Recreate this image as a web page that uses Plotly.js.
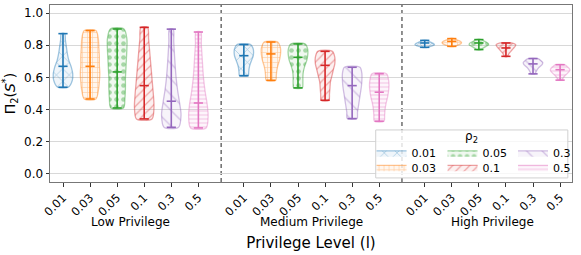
<!DOCTYPE html>
<html><head><meta charset="utf-8">
<script src="https://cdn.plot.ly/plotly-3.0.1.min.js"></script>
<style>html,body{margin:0;padding:0;background:#fff}#chart{width:581px;height:255px}</style>
</head><body><div id="chart"></div>
<script>
// ---------- data ----------
const rhoLabels = ["0.01", "0.03", "0.05", "0.1", "0.3", "0.5"];
const groupLabels = ["Low Privilege", "Medium Privilege", "High Privilege"];

const minLow  = [0.539, 0.466, 0.410, 0.342, 0.290, 0.286];
const maxLow  = [0.872, 0.891, 0.901, 0.911, 0.900, 0.882];
const meanLow = [0.669, 0.669, 0.634, 0.549, 0.452, 0.441];

const minMed  = [0.611, 0.582, 0.535, 0.458, 0.344, 0.328];
const maxMed  = [0.804, 0.820, 0.808, 0.762, 0.663, 0.623];
const meanMed = [0.735, 0.746, 0.725, 0.675, 0.549, 0.508];

const minHigh  = [0.787, 0.793, 0.773, 0.731, 0.622, 0.583];
const maxHigh  = [0.830, 0.841, 0.835, 0.814, 0.717, 0.679];
const meanHigh = [0.814, 0.824, 0.814, 0.783, 0.684, 0.648];

// relative violin width, from the minimum (first) to the maximum (last)
const shapeLow = [
  [0.55, 0.95, 1.00, 0.85, 0.60, 0.45, 0.35, 0.25, 0.18],
  [0.60, 0.85, 0.95, 1.00, 0.95, 0.95, 0.90, 0.85, 0.60],
  [0.65, 0.80, 0.85, 0.85, 0.90, 0.95, 1.00, 1.00, 0.70],
  [0.80, 1.00, 0.95, 0.85, 0.75, 0.65, 0.55, 0.45, 0.35],
  [0.75, 1.00, 0.85, 0.65, 0.50, 0.40, 0.32, 0.25, 0.20],
  [0.80, 1.00, 0.90, 0.70, 0.55, 0.45, 0.38, 0.30, 0.25]
];
const shapeMed = [
  [0.45, 0.50, 0.55, 0.65, 0.80, 0.95, 1.00, 0.95, 0.70],
  [0.50, 0.55, 0.60, 0.70, 0.85, 0.95, 1.00, 0.95, 0.70],
  [0.45, 0.50, 0.50, 0.55, 0.70, 0.90, 1.00, 1.00, 0.75],
  [0.40, 0.45, 0.50, 0.55, 0.70, 0.85, 1.00, 1.00, 0.75],
  [0.50, 0.55, 0.65, 0.75, 0.85, 0.95, 1.00, 1.00, 0.80],
  [0.50, 0.55, 0.60, 0.70, 0.85, 0.95, 1.00, 0.95, 0.75]
];
const shapeHigh = [
  [0.30, 0.60, 0.85, 1.00, 0.95, 0.80, 0.60, 0.40, 0.25],
  [0.30, 0.55, 0.80, 0.95, 1.00, 0.90, 0.70, 0.45, 0.30],
  [0.25, 0.40, 0.60, 0.85, 1.00, 0.95, 0.75, 0.50, 0.30],
  [0.15, 0.25, 0.35, 0.50, 0.65, 0.80, 0.95, 1.00, 0.60],
  [0.20, 0.30, 0.40, 0.55, 0.75, 0.95, 1.00, 0.80, 0.50],
  [0.20, 0.30, 0.45, 0.65, 0.85, 1.00, 0.95, 0.75, 0.45]
];

// ---------- styling ----------
const colors = ["31,119,180", "255,127,14", "44,160,44", "214,39,40", "148,103,189", "227,119,194"];
const patterns = ["x", "+", ".", "/", "\\", "-"];
const patSize = [9, 5, 7, 6, 11, 4];
const patSolid = [0.15, 0.22, 0.35, 0.2, 0.12, 0.25];
const legendIds = ["legend", "legend2", "legend3", "legend4", "legend5", "legend6"];
const GROUP_STEP = 6.68;
const HALF = 0.36;   // max half-width of a violin, x units
const CAP = 0.17;    // half-width of caps

const mins = [minLow, minMed, minHigh];
const maxs = [maxLow, maxMed, maxHigh];
const means = [meanLow, meanMed, meanHigh];
const shapes = [shapeLow, shapeMed, shapeHigh];

const traces = [];
const tickvals = [], ticktext = [];
for (let g = 0; g < 3; g++) {
  for (let k = 0; k < rhoLabels.length; k++) {
    const pos = g * GROUP_STEP + k;
    tickvals.push(pos); ticktext.push(rhoLabels[k]);
    const lo = mins[g][k], hi = maxs[g][k], prof = shapes[g][k];
    const n = prof.length;
    const xs = [], ys = [];
    for (let i = 0; i < n; i++) { xs.push(pos + prof[i] * HALF); ys.push(lo + (hi - lo) * i / (n - 1)); }
    for (let i = n - 1; i >= 0; i--) { xs.push(pos - prof[i] * HALF); ys.push(lo + (hi - lo) * i / (n - 1)); }
    xs.push(xs[0]); ys.push(ys[0]);
    const c = colors[k];
    traces.push({
      type: "scatter", mode: "lines", x: xs, y: ys,
      fill: "toself", fillcolor: `rgba(${c},0.08)`,
      fillpattern: { shape: patterns[k], fgcolor: `rgba(${c},0.38)`, bgcolor: `rgba(${c},0.07)`, size: patSize[k], solidity: patSolid[k] },
      line: { color: `rgba(${c},0.42)`, width: 1.3, shape: "spline", smoothing: 0.8 },
      name: rhoLabels[k], legendgroup: rhoLabels[k], legend: legendIds[k],
      showlegend: g === 0, hoverinfo: "skip"
    });
    const m = means[g][k];
    traces.push({
      type: "scatter", mode: "lines",
      x: [pos, pos, null, pos - CAP, pos + CAP, null, pos - CAP, pos + CAP, null, pos - CAP, pos + CAP],
      y: [lo, hi, null, lo, lo, null, hi, hi, null, m, m],
      line: { color: `rgb(${c})`, width: 1.6 },
      showlegend: false, hoverinfo: "skip"
    });
  }
}

const sep1 = 5 + (GROUP_STEP - 5) / 2;
const sep2 = GROUP_STEP + 5 + (GROUP_STEP - 5) / 2;

const legX = [0.616, 0.616, 0.752, 0.752, 0.887, 0.887];
const legY = [0.165, 0.083, 0.165, 0.083, 0.165, 0.083];
const layout = {
  width: 581, height: 255,
  margin: { l: 50, r: 7, t: 5, b: 73 },
  paper_bgcolor: "#fff", plot_bgcolor: "#fff",
  font: { family: "DejaVu Sans", color: "#000", size: 12 },
  xaxis: {
    range: [-0.48, 18.8], tickmode: "array", tickvals: tickvals, ticktext: ticktext,
    tickangle: -45, ticks: "outside", ticklen: 3.5, tickcolor: "#333", tickfont: { size: 11.5 },
    showline: true, mirror: true, linecolor: "#777", linewidth: 1,
    showgrid: false, zeroline: false,
    title: { text: "Privilege Level (l)", font: { size: 15 }, standoff: 19 }
  },
  yaxis: {
    range: [-0.05, 1.05], tickvals: [0, 0.2, 0.4, 0.6, 0.8, 1.0], tickformat: ".1f",
    ticks: "outside", ticklen: 3.5, tickcolor: "#333", tickfont: { size: 12 },
    showline: true, mirror: true, linecolor: "#777", linewidth: 1,
    showgrid: true, gridcolor: "#d8d8d8", gridwidth: 1, zeroline: false,
    title: { text: "Π<sub>2</sub>(<i>S</i><sup>*</sup>)", font: { size: 14 }, standoff: 6 }
  },
  shapes: [
    { type: "line", xref: "x", yref: "paper", x0: sep1, x1: sep1, y0: 0, y1: 1, layer: "below", line: { color: "#222", width: 1, dash: "4px,3px" } },
    { type: "line", xref: "x", yref: "paper", x0: sep2, x1: sep2, y0: 0, y1: 1, layer: "below", line: { color: "#222", width: 1, dash: "4px,3px" } },
    { type: "rect", xref: "paper", yref: "paper", x0: 0.624, x1: 0.992, y0: 0.023, y1: 0.294, layer: "above",
      fillcolor: "rgba(255,255,255,0.8)", line: { color: "#d0d0d0", width: 1 } }
  ],
  annotations: [
    { text: "ρ<sub>2</sub>", xref: "paper", yref: "paper", x: 0.808, y: 0.255, showarrow: false, font: { size: 12 }, xanchor: "center", yanchor: "middle" }
  ]
};
for (let g = 0; g < 3; g++) {
  layout.annotations.push({
    text: groupLabels[g], xref: "x", yref: "paper", x: g * GROUP_STEP + 2.5, y: -0.228,
    showarrow: false, font: { size: 12 }, xanchor: "center", yanchor: "middle"
  });
}
for (let k = 0; k < 6; k++) {
  layout[legendIds[k]] = {
    x: legX[k], y: legY[k], xanchor: "left", yanchor: "middle",
    bgcolor: "rgba(0,0,0,0)", borderwidth: 0, font: { size: 11 }, itemwidth: 30
  };
}

Plotly.newPlot("chart", traces, layout, { displayModeBar: false, staticPlot: true });
</script></body></html>
